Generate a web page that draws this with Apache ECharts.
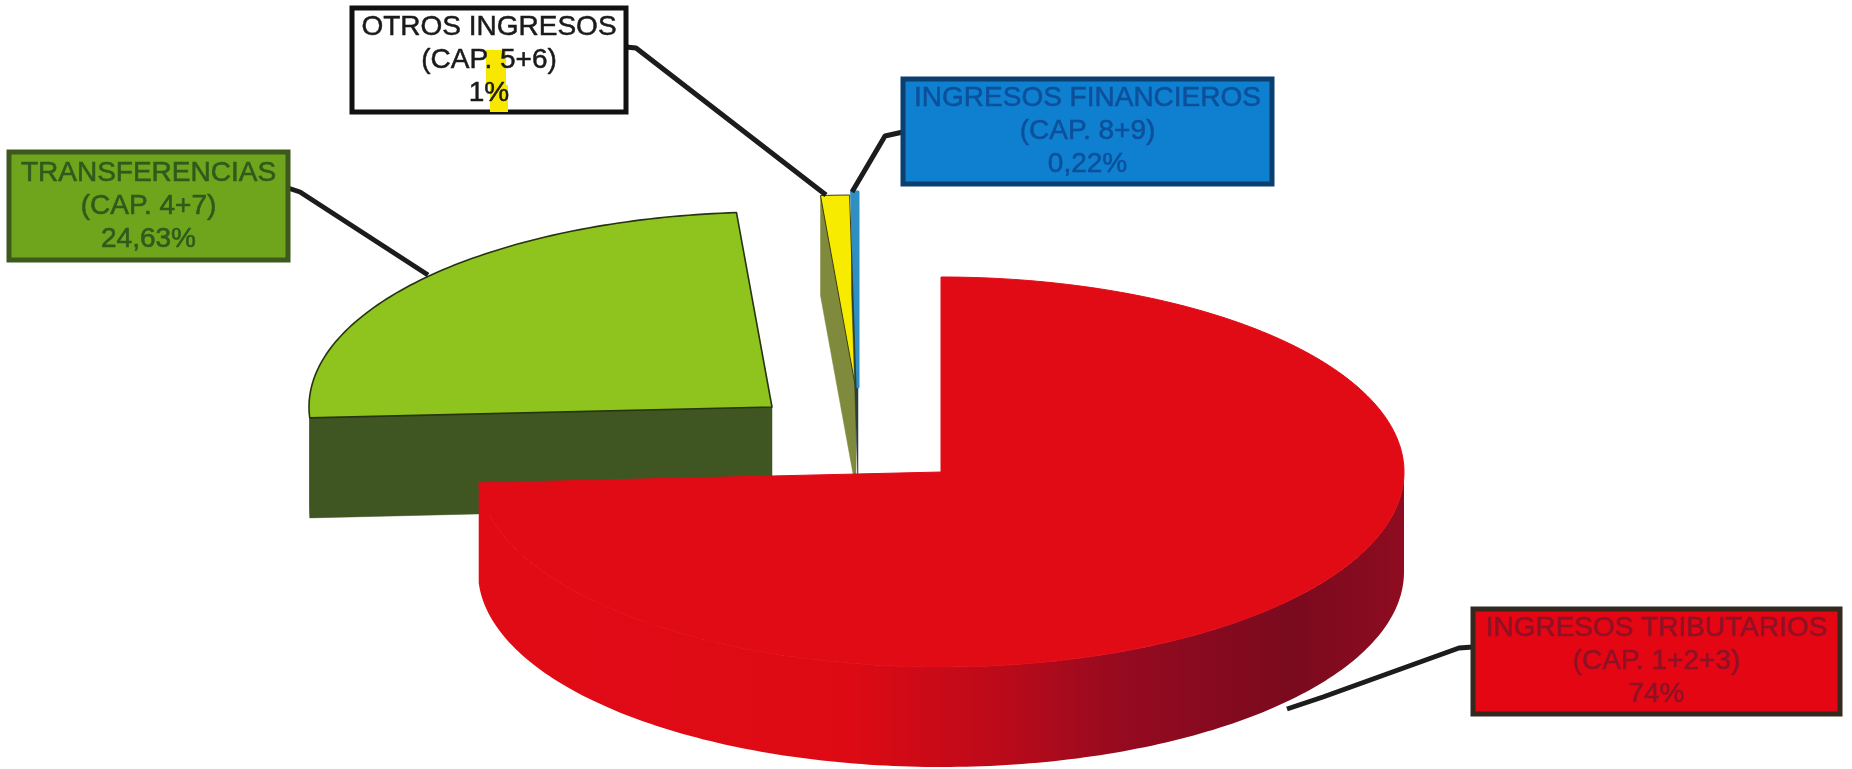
<!DOCTYPE html>
<html>
<head>
<meta charset="utf-8">
<style>html,body{margin:0;padding:0;background:#fff}#c{width:1852px;height:769px}</style>
<script src="https://cdn.jsdelivr.net/npm/echarts@6/dist/echarts.min.js"></script>
</head>
<body>
<div id="c"></div>
<script>
// ---- data ----
const categories = ['INGRESOS TRIBUTARIOS', 'TRANSFERENCIAS', 'OTROS INGRESOS', 'INGRESOS FINANCIEROS'];
const chapters = ['(CAP. 1+2+3)', '(CAP. 4+7)', '(CAP. 5+6)', '(CAP. 8+9)'];
const percentLabels = ['74%', '24,63%', '1%', '0,22%'];
const values = [74, 24.63, 1, 0.22];

// ---- layout and styling ----
const RX = 463, RY = 195, DEPTH = 100;
const centers = [[941, 472], [772, 407], [856, 390], [858, 387]];
const sliceZ = [40, 30, 20, 25];
const topFill = ['#e10b16', '#8fc41e', '#f7ec00', '#2f8fc2'];
const topStroke = ['#e10b16', '#26340f', '#3a3a10', '#2f8fc2'];
const topStrokeWidth = [1, 1.6, 1, 3];
const cutFill = ['#7a0a1e', '#3f5623', '#7f8a3c', '#2b3f3a'];
const wallFill = [
  {type:'linear',x:0,y:0,x2:1,y2:0,colorStops:[
    {offset:0,color:'#e10b16'},{offset:.4,color:'#dd0a14'},{offset:.56,color:'#bc0a1a'},
    {offset:.7,color:'#950a20'},{offset:.88,color:'#7a0a1e'},{offset:1,color:'#8e0c20'}]},
  '#3f5623','#7f8a3c','#2b3f3a'
];
const boxes = [[1473,609,367,105],[9,152,279,108],[352,8,274,104],[903,79,369,105]];
const boxFill = ['#e50614','#6fa51c','#ffffff','#0f7fd0'];
const boxStroke = ['#33291f','#3d5a1c','#111111','#0a3f70'];
const textFill = ['#8c1226','#2f5a1c','#1a1a1a','#0c4f9a'];
const textWeight = [0.5, 0.6, 0.5, 0.5];
const leaders = [
  [[1473,647],[1459,648],[1323,697],[1287,709]],
  [[288,188],[300,192],[428,275]],
  [[626,47],[636,48],[826,195]],
  [[903,132],[885,136],[852,192]]
];
const marks = [[486,50,20,35],[490,85,18,27]]; // scanner highlight on the white label

const total = values.reduce((a, b) => a + b, 0);
const startAngles = [];
values.reduce((acc, v, i) => { startAngles[i] = acc; return acc + v; }, 0);

function pt(c, deg, k) {
  const a = deg * Math.PI / 180;
  return [c[0] + RX * k * Math.sin(a), c[1] - RY * k * Math.cos(a)];
}
function arc(c, a0, a1) {
  const out = [];
  const n = Math.max(2, Math.ceil(Math.abs(a1 - a0)));
  for (let i = 0; i <= n; i++) out.push(pt(c, a0 + (a1 - a0) * i / n, 1));
  return out;
}
const drop = p => [p[0], p[1] + DEPTH];

function renderSlice(params, api) {
  const i = params.dataIndex;
  const a0 = startAngles[i] / total * 360;
  const a1 = a0 + api.value(0) / total * 360;
  const c = centers[i];
  const z2 = sliceZ[i];
  const children = [];
  const cut = (deg) => {
    const e = pt(c, deg, 1);
    children.push({type:'polygon', z2, shape:{points:[c, e, drop(e), drop(c)]},
      style:{fill:cutFill[i], stroke:cutFill[i], lineWidth:.5}});
  };
  if (Math.sin(a0 * Math.PI / 180) < -1e-6) cut(a0);
  if (Math.sin(a1 * Math.PI / 180) > 1e-6) cut(a1);
  const w0 = Math.max(a0, 90), w1 = Math.min(a1, 270);
  if (w1 > w0) {
    const front = arc(c, w0, w1);
    children.push({type:'polygon', z2, shape:{points:front.concat(front.map(drop).reverse())},
      style:{fill:wallFill[i]}});
  }
  children.push({type:'polygon', z2:z2 + 1, shape:{points:[c].concat(arc(c, a0, a1))},
    style:{fill:topFill[i], stroke:topStroke[i], lineWidth:topStrokeWidth[i], lineJoin:'round'}});
  return {type:'group', children};
}

function renderLabel(params, api) {
  const i = params.dataIndex;
  const b = boxes[i];
  const z2 = 60;
  const children = [
    {type:'polyline', z2, shape:{points:leaders[i]}, style:{fill:null, stroke:'#1c1c1c', lineWidth:5, lineJoin:'round'}},
    {type:'rect', z2:z2 + 1, shape:{x:b[0], y:b[1], width:b[2], height:b[3]},
      style:{fill:boxFill[i], stroke:boxStroke[i], lineWidth:5}}
  ];
  if (i === 2) marks.forEach(m => children.push({type:'rect', z2:z2 + 2,
    shape:{x:m[0], y:m[1], width:m[2], height:m[3]}, style:{fill:'#f8e800'}}));
  [categories[i], chapters[i], percentLabels[i]].forEach((t, k) => {
    children.push({type:'text', z2:z2 + 3, style:{
      text:t, x:b[0] + b[2] / 2, y:b[1] + b[3] / 2 + (k - 1) * 33,
      fill:textFill[i], stroke:textFill[i], lineWidth:textWeight[i], align:'center', verticalAlign:'middle',
      font:'28px "Liberation Sans", Arial, sans-serif'}});
  });
  return {type:'group', children};
}

const chart = echarts.init(document.getElementById('c'), null, {renderer:'canvas'});
chart.setOption({
  animation:false,
  backgroundColor:'#ffffff',
  series:[
    {type:'custom', coordinateSystem:'none', silent:true, renderItem:renderSlice, data:values.map(v => [v])},
    {type:'custom', coordinateSystem:'none', silent:true, z:5, renderItem:renderLabel, data:values.map(v => [v])}
  ]
});
</script>
</body>
</html>
